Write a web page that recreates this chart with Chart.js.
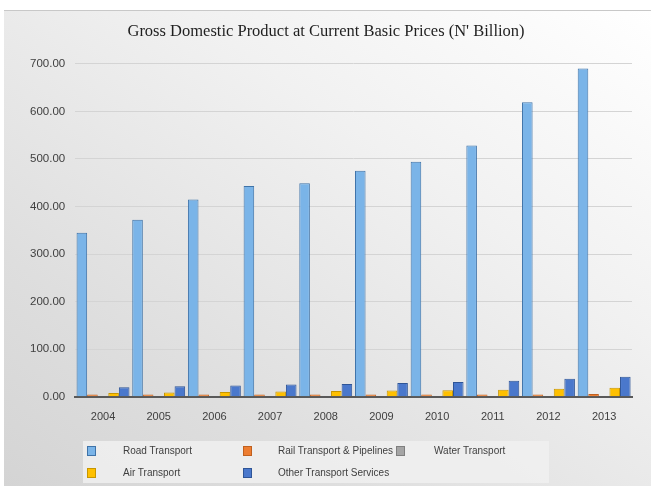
<!DOCTYPE html>
<html>
<head>
<meta charset="utf-8">
<script src="https://cdn.jsdelivr.net/npm/chart.js@4/dist/chart.umd.min.js"></script>
<style>
  html,body{margin:0;padding:0;background:#fff;}
  #wrap{position:absolute;left:0;top:0;width:651px;height:486px;}
  #bg{position:absolute;left:4px;top:10px;width:647px;height:476px;
      background:linear-gradient(215deg,#ffffff 0%,#f1f1f1 35%,#dedede 75%,#d4d4d4 100%);
      border-top:1px solid #c8c8c8;}
  canvas{position:absolute;left:0;top:0;}
  #legend{position:absolute;left:83px;top:441px;width:466px;height:42px;background:rgba(240,240,240,0.85);
      font-family:"Liberation Sans",Arial,sans-serif;font-size:10px;line-height:14px;color:#404040;}
  .it{position:absolute;white-space:nowrap;}
  .sw{position:absolute;width:7px;height:8px;}
</style>
</head>
<body>
<div id="wrap">
  <div id="bg"></div>
  <canvas id="c" width="651" height="486"></canvas>
  <div id="legend"></div>
</div>
<script>
const categories = ["2004","2005","2006","2007","2008","2009","2010","2011","2012","2013"];
const roadTransport = [345, 372, 415, 443, 449, 475, 494, 528, 619, 690];
const railTransport = [5, 5, 5, 5, 5, 5, 5, 5, 5, 6];
const waterTransport = [1, 1, 1, 1, 1, 1, 1, 1, 1, 1];
const airTransport = [8, 9, 10, 11, 12, 13, 14, 15, 17, 19];
const otherTransport = [20, 22, 24, 26, 27, 29, 31, 34, 38, 42];
const seriesNames = ["Road Transport", "Rail Transport & Pipelines", "Water Transport", "Air Transport", "Other Transport Services"];
const yTicks = [0, 100, 200, 300, 400, 500, 600, 700];

const fills = ["#7ab4e8", "#ed7d31", "#a5a5a5", "#ffc000", "#4a78cc"];
const borders = ["#3f73a8", "#c0601f", "#7f7f7f", "#c79600", "#2f5597"];

const datasets = [roadTransport, railTransport, waterTransport, airTransport, otherTransport].map((d, i) => ({
  label: seriesNames[i],
  data: d,
  backgroundColor: fills[i],
  borderColor: borders[i],
  borderWidth: 1
}));

new Chart(document.getElementById('c'), {
  type: 'bar',
  data: { labels: categories, datasets },
  options: {
    responsive: false,
    animation: false,
    layout: { padding: { left: 20, right: 19, top: 10, bottom: 48 } },
    datasets: { bar: { categoryPercentage: 0.95, barPercentage: 1.0 } },
    plugins: {
      legend: { display: false },
      tooltip: { enabled: false },
      title: {
        display: true,
        text: "Gross Domestic Product at Current Basic Prices (N' Billion)",
        font: { family: "'Liberation Serif','Times New Roman',serif", size: 16.5, weight: 'normal' },
        color: '#1f1f1f',
        padding: { top: 12, bottom: 22 }
      }
    },
    scales: {
      x: {
        grid: { display: false, drawTicks: false },
        border: { display: true, color: '#595959', width: 2 },
        ticks: { color: '#404040', font: { family: "'Liberation Sans',Arial,sans-serif", size: 11 }, padding: 14 }
      },
      y: {
        min: 0, max: 700,
        afterBuildTicks: (axis) => { axis.ticks = yTicks.map(v => ({ value: v })); },
        grid: { color: '#d4d4d4', drawTicks: false },
        border: { display: false },
        ticks: {
          color: '#404040',
          font: { family: "'Liberation Sans',Arial,sans-serif", size: 11.5 },
          padding: 10,
          callback: (v) => Number(v).toFixed(2)
        }
      }
    }
  }
});

const swPos = [[4, 5], [160, 5], [313, 5], [4, 27], [160, 27]];
const txPos = [[40, 3], [195, 3], [351, 3], [40, 25], [195, 25]];
const lg = document.getElementById('legend');
seriesNames.forEach((n, i) => {
  const sw = document.createElement('div');
  sw.className = 'sw';
  sw.style.left = swPos[i][0] + 'px';
  sw.style.top = swPos[i][1] + 'px';
  sw.style.background = fills[i];
  sw.style.border = '1px solid ' + borders[i];
  lg.appendChild(sw);
  const t = document.createElement('div');
  t.className = 'it';
  t.style.left = txPos[i][0] + 'px';
  t.style.top = txPos[i][1] + 'px';
  t.textContent = n;
  lg.appendChild(t);
});
</script>
</body>
</html>
